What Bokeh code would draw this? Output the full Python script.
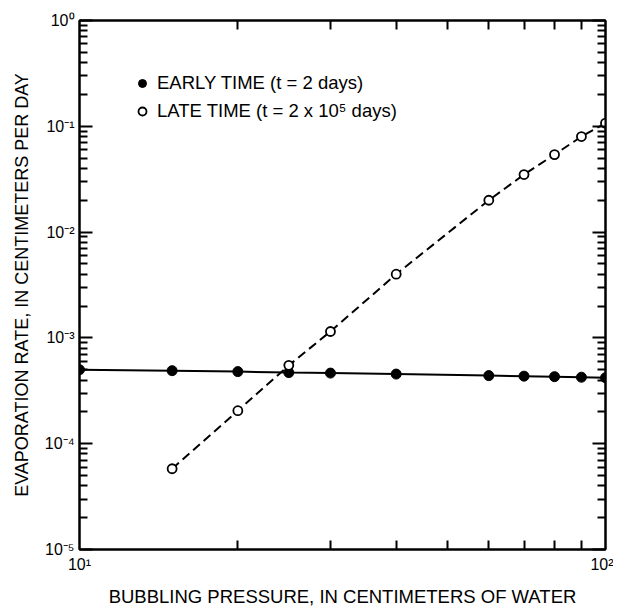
from bokeh.plotting import figure
from bokeh.models import LogAxis, FixedTicker, Legend, LegendItem
from bokeh.embed import file_html
from bokeh.resources import INLINE

# ---- data ----
early_x = [10, 15, 20, 25, 30, 40, 60, 70, 80, 90, 100]
early_y = [5.0e-4, 4.9e-4, 4.8e-4, 4.7e-4, 4.65e-4, 4.55e-4, 4.4e-4, 4.35e-4, 4.3e-4, 4.25e-4, 4.2e-4]
late_x = [15, 20, 25, 30, 40, 60, 70, 80, 90, 100]
late_y = [5.8e-5, 2.05e-4, 5.5e-4, 1.15e-3, 4.0e-3, 2.0e-2, 3.5e-2, 5.4e-2, 8.0e-2, 1.07e-1]

x_major = [10, 100]
x_labels = {10: "10¹", 100: "10²"}
y_major = [1e-5, 1e-4, 1e-3, 1e-2, 1e-1, 1e0]
y_labels = {1e-5: "10⁻⁵", 1e-4: "10⁻⁴", 1e-3: "10⁻³", 1e-2: "10⁻²", 1e-1: "10⁻¹", 1e0: "10⁰"}

early_label = "EARLY TIME (t = 2 days)"
late_label = "LATE TIME (t = 2 x 10⁵ days)"
x_title = "BUBBLING PRESSURE, IN CENTIMETERS OF WATER"
y_title = "EVAPORATION RATE, IN CENTIMETERS PER DAY"

FONT = "Liberation Sans"

x_minor = [m * 10 for m in range(2, 10)]
y_minor = [m * d for d in y_major[:-1] for m in range(2, 10)]

p = figure(x_axis_type="log", y_axis_type="log",
           x_range=(10, 100), y_range=(1e-5, 1),
           frame_width=526, frame_height=529,
           min_border_left=79, min_border_right=8, min_border_top=20, min_border_bottom=44,
           output_backend="svg", toolbar_location=None)
p.grid.visible = False
p.outline_line_color = "black"
p.outline_line_width = 2
p.background_fill_color = "white"
p.border_fill_color = "white"

xt = FixedTicker(ticks=x_major, minor_ticks=x_minor)
yt = FixedTicker(ticks=y_major, minor_ticks=y_minor)


def style_x(ax, labels=True):
    ax.ticker = xt
    ax.axis_line_color = "black"
    ax.axis_line_width = 2
    ax.major_tick_in = 0
    ax.major_tick_out = 0
    ax.minor_tick_in = 9
    ax.minor_tick_out = 0
    ax.minor_tick_line_width = 2
    ax.major_tick_line_width = 2
    ax.major_label_standoff = 6
    if labels:
        ax.major_label_overrides = x_labels
        ax.major_label_text_font = FONT
        ax.major_label_text_font_size = "16px"
        ax.major_label_text_color = "black"
    else:
        ax.major_label_text_font_size = "2px"
        ax.major_label_text_alpha = 0
        ax.major_label_standoff = 0


def style_y(ax, labels=True):
    ax.ticker = yt
    ax.axis_line_color = "black"
    ax.axis_line_width = 2
    ax.major_tick_in = 13
    ax.major_tick_out = 0
    ax.minor_tick_in = 8
    ax.minor_tick_out = 0
    ax.minor_tick_line_width = 2
    ax.major_tick_line_width = 2
    ax.major_label_standoff = 5
    if labels:
        ax.major_label_overrides = y_labels
        ax.major_label_text_font = FONT
        ax.major_label_text_font_size = "16px"
        ax.major_label_text_color = "black"
    else:
        ax.major_label_text_font_size = "2px"
        ax.major_label_text_alpha = 0
        ax.major_label_standoff = 0


style_x(p.xaxis[0])
style_y(p.yaxis[0])
p.xaxis[0].axis_label = x_title
p.xaxis[0].axis_label_text_font = FONT
p.xaxis[0].axis_label_text_font_size = "18.5px"
p.xaxis[0].axis_label_text_font_style = "normal"
p.xaxis[0].axis_label_text_color = "black"
p.xaxis[0].axis_label_standoff = 10
p.yaxis[0].axis_label = y_title
p.yaxis[0].axis_label_text_font = FONT
p.yaxis[0].axis_label_text_font_size = "18px"
p.yaxis[0].axis_label_text_font_style = "normal"
p.yaxis[0].axis_label_text_color = "black"
p.yaxis[0].axis_label_standoff = 10

top = LogAxis()
style_x(top, labels=False)
p.add_layout(top, "above")
right = LogAxis()
style_y(right, labels=False)
p.add_layout(right, "right")

# ---- series ----
p.line(early_x, early_y, line_color="black", line_width=2)
r_early = p.scatter(early_x, early_y, marker="circle", size=10,
                    fill_color="black", line_color="black")
p.line(late_x, late_y, line_color="black", line_width=2, line_dash="9 5")
r_late = p.scatter(late_x, late_y, marker="circle", size=9,
                   fill_color="white", line_color="black", line_width=1.8)

legend = Legend(items=[LegendItem(label=early_label, renderers=[r_early]),
                       LegendItem(label=late_label, renderers=[r_late])],
                location=(53, 427), padding=0, margin=0, spacing=6,
                glyph_width=20, glyph_height=20, label_height=20,
                label_standoff=5,
                label_text_font=FONT, label_text_font_size="18.5px",
                label_text_color="black",
                border_line_color=None, background_fill_alpha=0)
p.add_layout(legend, "center")

open("out.html", "w").write(file_html(p, INLINE))
